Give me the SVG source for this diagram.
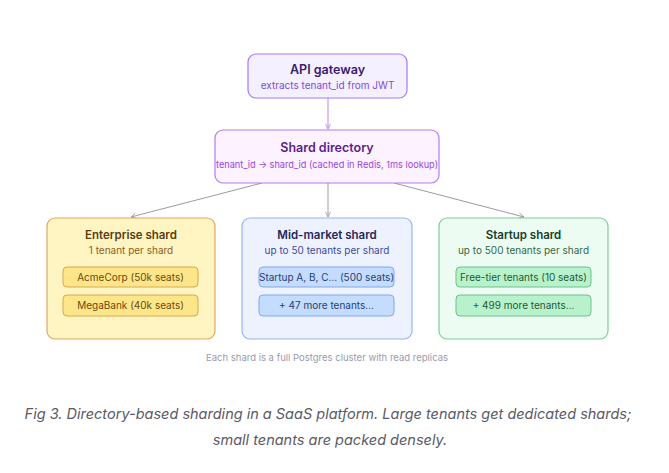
<svg xmlns="http://www.w3.org/2000/svg" width="669" height="473" viewBox="0 0 669 473">
<style>
text{font-family:"Inter","Liberation Sans",sans-serif;text-anchor:middle}
.t{font-size:12.5px;font-weight:600}
.st{font-size:10px}
.s{font-size:10px}
.i{font-size:10px}
.conn line{stroke:#9a9aa8;stroke-width:1}
</style>
<defs>
<marker id="ah" viewBox="0 0 8 8" refX="7" refY="4" markerWidth="7" markerHeight="7" orient="auto-start-reverse">
<path d="M1,1 L7,4 L1,7" fill="none" stroke="#9a9aa8" stroke-width="1"/>
</marker>
<marker id="ahp" viewBox="0 0 8 8" refX="7" refY="4" markerWidth="7" markerHeight="7" orient="auto">
<path d="M1,1 L7,4 L1,7" fill="none" stroke="#b38cf0" stroke-width="1"/>
</marker>
</defs>
<rect width="669" height="473" fill="#ffffff"/>
<g class="conn">
<line x1="328" y1="98" x2="328" y2="129" style="stroke:#b38cf0" marker-end="url(#ahp)"/>
<line x1="262" y1="183" x2="131" y2="217" marker-end="url(#ah)"/>
<line x1="328" y1="183" x2="328" y2="217" marker-end="url(#ah)"/>
<line x1="394" y1="183" x2="524" y2="217" marker-end="url(#ah)"/>
</g>
<g id="api-gateway">
<rect x="248" y="54" width="159" height="44" rx="8" fill="#f4f0ff" stroke="#a37cf0" stroke-width="1.2"/>
<text class="t" x="327.5" y="74" fill="#3b1a70">API gateway</text>
<text class="st" x="327.5" y="89" fill="#7c4ae0">extracts tenant_id from JWT</text>
</g>
<g id="shard-directory">
<rect x="215" y="130" width="224" height="53" rx="8" fill="#fdf2ff" stroke="#b07ef0" stroke-width="1.2"/>
<text class="t" x="327" y="152" fill="#5a1f8a">Shard directory</text>
<text class="st" x="327" y="168" fill="#9b45e0" style="font-size:9.6px" textLength="222" lengthAdjust="spacingAndGlyphs">tenant_id → shard_id (cached in Redis, 1ms lookup)</text>
</g>
<g id="enterprise-shard">
<rect x="47" y="218" width="168" height="121" rx="8" fill="#fef5c3" stroke="#e0a860" stroke-width="1.2"/>
<text class="t" x="131" y="239" style="font-size:11.5px" fill="#5a3d10">Enterprise shard</text>
<text class="s" x="131" y="254" fill="#8a6020">1 tenant per shard</text>
<rect x="63" y="267" width="135" height="20" rx="4" fill="#fde58a" stroke="#d9a850" stroke-width="1"/>
<text class="i" x="130.5" y="281" fill="#6a4a10">AcmeCorp (50k seats)</text>
<rect x="63" y="295" width="135" height="21" rx="4" fill="#fde58a" stroke="#d9a850" stroke-width="1"/>
<text class="i" x="130.5" y="309" fill="#6a4a10">MegaBank (40k seats)</text>
</g>
<g id="mid-market-shard">
<rect x="242" y="218" width="170" height="121" rx="8" fill="#eef2fe" stroke="#98b4f2" stroke-width="1.2"/>
<text class="t" x="327" y="239" style="font-size:11.5px" fill="#1f2a5c">Mid-market shard</text>
<text class="s" x="327" y="254" fill="#3a4a9a">up to 50 tenants per shard</text>
<rect x="259" y="267" width="135" height="20" rx="4" fill="#c4dcfd" stroke="#7ea8f0" stroke-width="1"/>
<text class="i" x="326.5" y="281" fill="#26407a">Startup A, B, C… (500 seats)</text>
<rect x="259" y="295" width="135" height="21" rx="4" fill="#c4dcfd" stroke="#7ea8f0" stroke-width="1"/>
<text class="i" x="326.5" y="309" fill="#26407a">+ 47 more tenants…</text>
</g>
<g id="startup-shard">
<rect x="439" y="218" width="169" height="121" rx="8" fill="#edfcf2" stroke="#80cc9c" stroke-width="1.2"/>
<text class="t" x="523.5" y="239" style="font-size:11.5px" fill="#173f2a">Startup shard</text>
<text class="s" x="523.5" y="254" fill="#2f6a48">up to 500 tenants per shard</text>
<rect x="456" y="267" width="135" height="20" rx="4" fill="#b8f2cc" stroke="#6cc08c" stroke-width="1"/>
<text class="i" x="523.5" y="281" fill="#1d5a36">Free-tier tenants (10 seats)</text>
<rect x="456" y="295" width="135" height="21" rx="4" fill="#b8f2cc" stroke="#6cc08c" stroke-width="1"/>
<text class="i" x="523.5" y="309" fill="#1d5a36">+ 499 more tenants…</text>
</g>
<text x="327" y="361" style="font-size:9.5px" fill="#9a9aae">Each shard is a full Postgres cluster with read replicas</text>
<text x="328" y="419" style="font-size:14.5px;font-style:italic" fill="#5a5a66">Fig 3. Directory-based sharding in a SaaS platform. Large tenants get dedicated shards;</text>
<text x="330" y="445" style="font-size:14.5px;font-style:italic" fill="#5a5a66">small tenants are packed densely.</text>
</svg>
